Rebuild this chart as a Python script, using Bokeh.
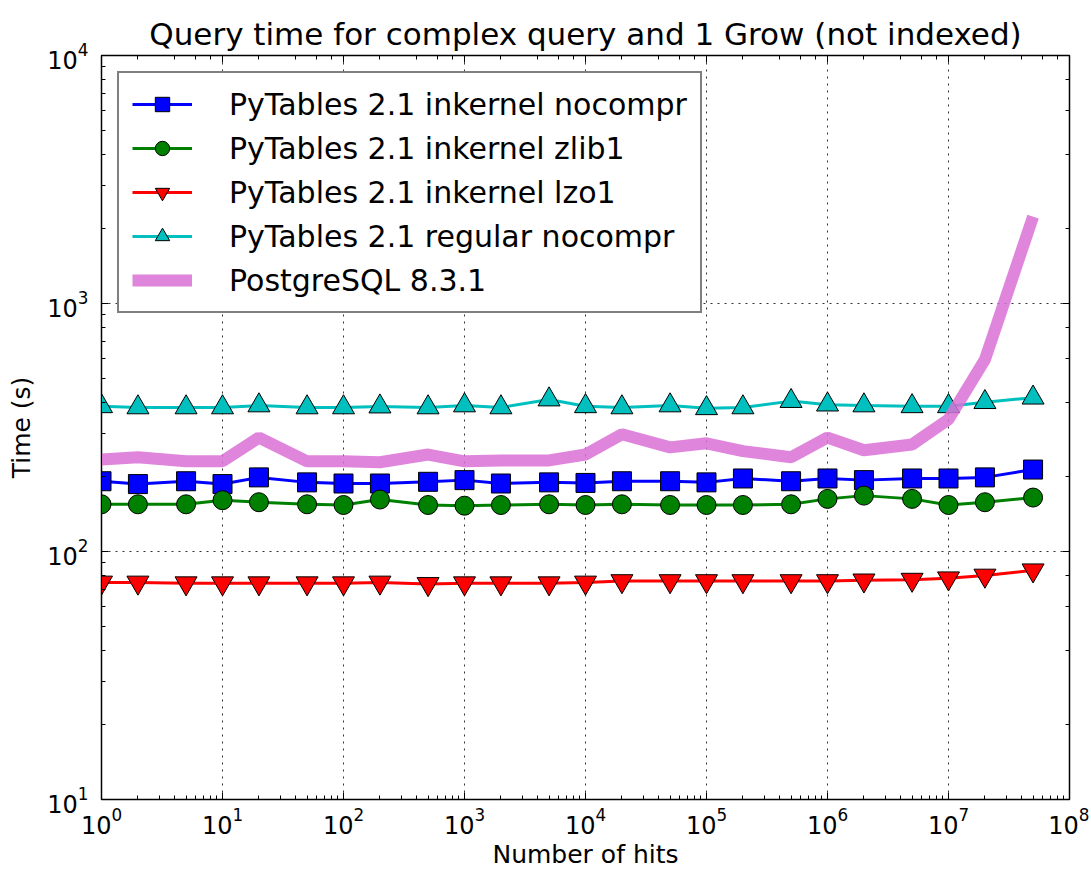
from bokeh.plotting import figure
from bokeh.models import LogAxis, LogTicker, Legend, LegendItem, Range1d, CustomJSTickFormatter
from bokeh.embed import file_html
from bokeh.resources import INLINE

hits = [1, 2, 5, 10, 20, 50, 100, 200, 500, 1e3, 2e3, 5e3, 1e4, 2e4, 5e4,
        1e5, 2e5, 5e5, 1e6, 2e6, 5e6, 1e7, 2e7, 5e7]

inkernel_nocompr = [192, 187, 192, 187, 199, 190, 188, 188, 191, 194, 188, 190,
                    189, 192, 192, 190, 197, 192, 197, 194, 197, 197, 199, 214]
inkernel_zlib1 = [155, 155, 155, 161, 158, 155, 154, 162, 154, 153, 154, 155,
                  154, 155, 154, 154, 154, 155, 163, 168, 163, 154, 158, 165]
inkernel_lzo1 = [75, 75, 74.5, 74.5, 74.5, 74.5, 74.5, 75, 74, 74.5, 74.5, 74.5,
                 75, 76, 76, 76, 76, 76, 76, 76.5, 77, 78, 80, 84]
regular_nocompr = [385, 381, 381, 381, 388, 381, 381, 384, 381, 388, 381, 410,
                   385, 381, 388, 378, 381, 404, 391, 388, 385, 385, 400, 417]
postgresql = [235, 240, 231, 231, 288, 231, 231, 229, 246, 231, 233, 233,
              246, 297, 263, 273, 254, 240, 288, 256, 270, 341, 594, 2240]

labels = ["PyTables 2.1 inkernel nocompr", "PyTables 2.1 inkernel zlib1",
          "PyTables 2.1 inkernel lzo1", "PyTables 2.1 regular nocompr",
          "PostgreSQL 8.3.1"]

FONT = "DejaVu Sans"

p = figure(width=1089, height=876, x_axis_type="log", y_axis_type="log",
           x_range=Range1d(1, 1e8), y_range=Range1d(10, 1e4),
           output_backend="svg", toolbar_location=None,
           min_border_left=101, min_border_right=20, min_border_top=55,
           min_border_bottom=77, background_fill_color="white",
           border_fill_color="white")

bottom = p.below[0]
left = p.left[0]

p.title.text = "Query time for complex query and 1 Grow (not indexed)"
p.title.align = "center"
p.title.text_font = FONT
p.title.text_font_size = "31px"
p.title.text_font_style = "normal"
p.title.text_color = "black"
p.title.text_line_height = 1.0
p.title.standoff = 0

p.outline_line_color = "black"
p.outline_line_width = 1.5

bottom.axis_label = "Number of hits"
left.axis_label = "Time (s)"

blank = CustomJSTickFormatter(code="return ' ';")
top = LogAxis(ticker=LogTicker(), formatter=blank)
right = LogAxis(ticker=LogTicker(), formatter=blank)
p.add_layout(top, "above")
p.add_layout(right, "right")

for ax in [bottom, left, top, right]:
    ax.major_tick_in = 7
    ax.major_tick_out = 0
    ax.minor_tick_in = 4
    ax.minor_tick_out = 0
    ax.axis_line_color = "black"
    ax.major_tick_line_color = "black"
    ax.minor_tick_line_color = "black"
    ax.major_label_text_font = FONT
    ax.major_label_text_font_size = "24px"
    ax.major_label_text_color = "black"
    ax.axis_label_text_font = FONT
    ax.axis_label_text_font_size = "25px"
    ax.axis_label_text_font_style = "normal"
    ax.axis_label_text_color = "black"

for ax in [top, right]:
    ax.major_label_text_font_size = "1px"
    ax.major_label_standoff = 0

bottom.major_label_standoff = 7
bottom.axis_label_standoff = 3
left.major_label_standoff = 13
left.axis_label_standoff = 8

for g in [p.xgrid[0], p.ygrid[0]]:
    g.grid_line_color = "black"
    g.grid_line_dash = "2 5"
    g.grid_line_alpha = 0.8
    g.grid_line_width = 1

items = []

l1 = p.line(hits, inkernel_nocompr, line_color="#0000FF", line_width=3)
s1 = p.scatter(hits, inkernel_nocompr, marker="square", size=19,
               fill_color="#0000FF", line_color="black", line_width=1)
items.append(LegendItem(label=labels[0], renderers=[l1, s1]))

l2 = p.line(hits, inkernel_zlib1, line_color="#008000", line_width=3)
s2 = p.scatter(hits, inkernel_zlib1, marker="circle", size=19,
               fill_color="#008000", line_color="black", line_width=1)
items.append(LegendItem(label=labels[1], renderers=[l2, s2]))

l3 = p.line(hits, inkernel_lzo1, line_color="#FF0000", line_width=3)
s3 = p.scatter(hits, inkernel_lzo1, marker="inverted_triangle", size=22,
               fill_color="#FF0000", line_color="black", line_width=1)
items.append(LegendItem(label=labels[2], renderers=[l3, s3]))

l4 = p.line(hits, regular_nocompr, line_color="#00BFBF", line_width=3)
s4 = p.scatter(hits, regular_nocompr, marker="triangle", size=22,
               fill_color="#00BFBF", line_color="black", line_width=1)
items.append(LegendItem(label=labels[3], renderers=[l4, s4]))

l5 = p.line(hits, postgresql, line_color="#DA70D6", line_width=12,
            line_alpha=0.85)
items.append(LegendItem(label=labels[4], renderers=[l5]))

legend = Legend(items=items, location="top_left", margin=16,
                label_text_font=FONT, label_text_font_size="30px",
                label_text_color="black", glyph_width=60, glyph_height=36,
                label_height=36, label_standoff=37, spacing=8, padding=13,
                border_line_color="black", border_line_width=2,
                background_fill_color="white", background_fill_alpha=1.0)
p.add_layout(legend)

open("out.html", "w").write(file_html(p, INLINE))
